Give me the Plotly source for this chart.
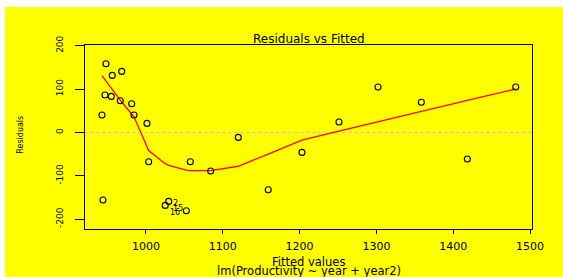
import plotly.graph_objects as go

# Data
fitted = [947.9, 968.4, 956.1, 946.6, 954.8, 966.5, 981.4, 984.4, 942.7, 1001.3,
          1003.5, 944.0, 1029.6, 1025.1, 1052.5, 1057.7, 1120.2, 1084.2, 1159.2,
          1203.1, 1302.1, 1251.3, 1358.5, 1481.4, 1418.4]
residuals = [158.3, 140.6, 131.3, 86.2, 82.9, 73.0, 66.1, 40.1, 40.1, 20.7,
             -67.5, -155.8, -159.0, -168.2, -180.4, -67.5, -11.5, -88.9, -132.0,
             -46.1, 104.6, 24.0, 69.6, 104.6, -61.3]

smooth_x = [942.7, 947.9, 956.1, 968.4, 984.4, 1001.3, 1003.5, 1025.1, 1029.6,
            1052.5, 1057.7, 1084.2, 1120.2, 1159.2, 1203.1, 1251.3, 1302.1,
            1358.5, 1418.4, 1481.4]
smooth_y = [131, 119, 100, 70, 36, -35, -42, -72, -76, -87, -88, -88, -78,
            -50, -18, 3, 25, 49, 74, 100]

label_idx = [12, 13, 14]
label_txt = ["2", "15", "16"]
label_dx = [7, 13, -11]
label_dy = [-2, -3, -2]

xticks = [1000, 1100, 1200, 1300, 1400, 1500]
yticks = [-200, -100, 0, 100, 200]
yticktext = ["-200", "-100", "0", "100", "200"]

FONT = "DejaVu Sans"
YEL = "#FFFF00"

fig = go.Figure()
fig.add_trace(go.Scatter(x=[920, 1510], y=[0, 0], mode="lines",
                         line=dict(color="#c8c8c8", width=1.5, dash="dot"),
                         hoverinfo="skip", showlegend=False))
fig.add_trace(go.Scatter(x=smooth_x, y=smooth_y, mode="lines",
                         line=dict(color="#ff0000", width=1.3),
                         showlegend=False))
fig.add_trace(go.Scatter(x=fitted, y=residuals, mode="markers",
                         marker=dict(symbol="circle-open", size=6,
                                     color="black", line=dict(width=1.1)),
                         showlegend=False))

annotations = []
for i, t, dx, dy in zip(label_idx, label_txt, label_dx, label_dy):
    annotations.append(dict(x=fitted[i], y=residuals[i], text=t, showarrow=False,
                            xshift=dx, yshift=dy, font=dict(family=FONT, size=8, color="black")))

annotations += [
    dict(x=0.5, y=(229.3 - 39.5) / 184, xref="paper", yref="paper", text="Residuals vs Fitted",
         showarrow=False, font=dict(family=FONT, size=12, color="black"), yanchor="middle"),
    dict(x=0.5, y=(229.3 - 262) / 184, xref="paper", yref="paper", text="Fitted values",
         showarrow=False, font=dict(family=FONT, size=11.5, color="black"), yanchor="middle"),
    dict(x=0.5, y=(229.3 - 271) / 184, xref="paper", yref="paper",
         text="lm(Productivity ~ year + year2)",
         showarrow=False, font=dict(family=FONT, size=11.5, color="black"), yanchor="middle"),
    dict(x=(21 - 85) / 447, y=(229.3 - 135) / 184, xref="paper", yref="paper", text="Residuals",
         textangle=-90, showarrow=False, font=dict(family=FONT, size=8, color="black"),
         xanchor="center", yanchor="middle"),
]

fig.update_layout(
    width=563, height=277,
    margin=dict(l=80, r=36, t=38, b=55, pad=0),
    paper_bgcolor=YEL, plot_bgcolor=YEL,
    annotations=annotations,
    xaxis=dict(range=[920.6, 1502.6], tickvals=xticks, ticks="outside", ticklen=4,
               tickcolor="black", showgrid=False, zeroline=False, showline=True,
               linecolor="black", linewidth=1, mirror=True, ticklabelstandoff=3,
               tickfont=dict(family=FONT, size=11, color="black")),
    yaxis=dict(range=[-222.6, 201.4], tickvals=yticks, ticktext=yticktext, ticks="outside",
               ticklen=9, tickcolor="black", tickangle=-90, showgrid=False, zeroline=False,
               showline=True, linecolor="black", linewidth=1, mirror=True,
               ticklabelstandoff=8,
               tickfont=dict(family=FONT, size=9, color="black")),
)

fig.write_html("out.html",
               post_script="document.body.style.margin='7px 0 0 5px';"
                           "document.body.style.overflow='hidden';")
